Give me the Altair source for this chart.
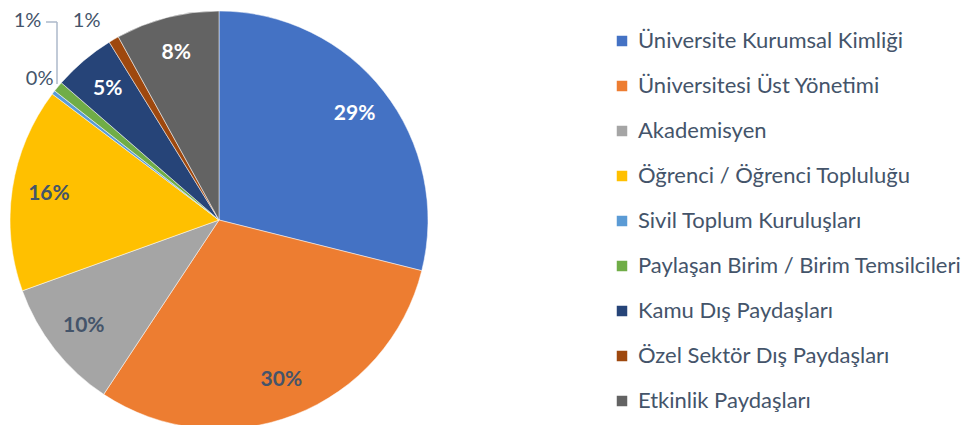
import altair as alt
import pandas as pd

categories = [
    "Üniversite Kurumsal Kimliği",
    "Üniversitesi Üst Yönetimi",
    "Akademisyen",
    "Öğrenci / Öğrenci Topluluğu",
    "Sivil Toplum Kuruluşları",
    "Paylaşan Birim / Birim Temsilcileri",
    "Kamu Dış Paydaşları",
    "Özel Sektör Dış Paydaşları",
    "Etkinlik Paydaşları",
]
values = [28.9, 30.4, 10.2, 15.8, 0.3, 0.8, 4.8, 0.8, 8.0]
colors = ["#4472C4", "#ED7D31", "#A5A5A5", "#FFC000", "#5B9BD5",
          "#70AD47", "#264478", "#9E480E", "#636363"]
white_label_cats = ["Üniversite Kurumsal Kimliği", "Kamu Dış Paydaşları", "Etkinlik Paydaşları"]

df = pd.DataFrame({"cat": categories, "v": values, "i": list(range(len(categories)))})

FONT = "Lato"
TXT = "#44546A"
CX, CY = 211, 212

base = alt.Chart(df).encode(
    theta=alt.Theta("v:Q", stack=True),
    order=alt.Order("i:Q"),
).transform_calculate(
    pct="format(datum.v / 100, '.0%')"
)

pie = base.mark_arc(outerRadius=209, stroke="white", strokeWidth=0.5).encode(
    x=alt.value(CX), y=alt.value(CY),
    color=alt.Color("cat:N", sort=categories,
                    scale=alt.Scale(domain=categories, range=colors),
                    legend=alt.Legend(title=None)),
)

inside = base.mark_text(radius=172, fontSize=21, fontWeight="bold", font=FONT).encode(
    x=alt.value(CX), y=alt.value(CY),
    text=alt.Text("lab_in:N"),
    color=alt.condition(alt.FieldOneOfPredicate(field="cat", oneOf=white_label_cats),
                        alt.value("white"), alt.value(TXT)),
).transform_calculate(lab_in="datum.v >= 2 ? datum.pct : ''")

out_sivil = base.mark_text(radius=229, fontSize=20, font=FONT, color=TXT, dx=2, dy=-1).encode(
    x=alt.value(CX), y=alt.value(CY), text=alt.Text("lab:N"),
).transform_calculate(lab="datum.cat == 'Sivil Toplum Kuruluşları' ? datum.pct : ''")

out_green = base.mark_text(radius=229, fontSize=20, font=FONT, color=TXT, dx=-15, dy=-53).encode(
    x=alt.value(CX), y=alt.value(CY), text=alt.Text("lab:N"),
).transform_calculate(lab="datum.cat == 'Paylaşan Birim / Birim Temsilcileri' ? datum.pct : ''")

out_brown = base.mark_text(radius=235, fontSize=20, font=FONT, color=TXT, dx=-14, dy=4).encode(
    x=alt.value(CX), y=alt.value(CY), text=alt.Text("lab:N"),
).transform_calculate(lab="datum.cat == 'Özel Sektör Dış Paydaşları' ? datum.pct : ''")

one = pd.DataFrame({"a": [0]})
lead_h = alt.Chart(one).mark_rule(color="#ADB9CA", strokeWidth=1.5).encode(
    x=alt.value(38), x2=alt.value(49), y=alt.value(14))
lead_v = alt.Chart(one).mark_rule(color="#ADB9CA", strokeWidth=1.5).encode(
    x=alt.value(49), y=alt.value(14), y2=alt.value(76))

chart = alt.layer(pie, lead_h, lead_v, inside, out_sivil, out_green, out_brown).properties(
    width=957, height=417, autosize="none", padding=0
).configure_view(stroke=None).configure_legend(
    orient="none", legendX=603, legendY=22,
    symbolType="square", symbolSize=110, symbolStrokeWidth=0,
    labelFontSize=22, labelFont=FONT, labelColor=TXT, labelOffset=5,
    rowPadding=23, labelLimit=400,
)

chart.save("out.html", embed_options={"renderer": "svg", "actions": False})
